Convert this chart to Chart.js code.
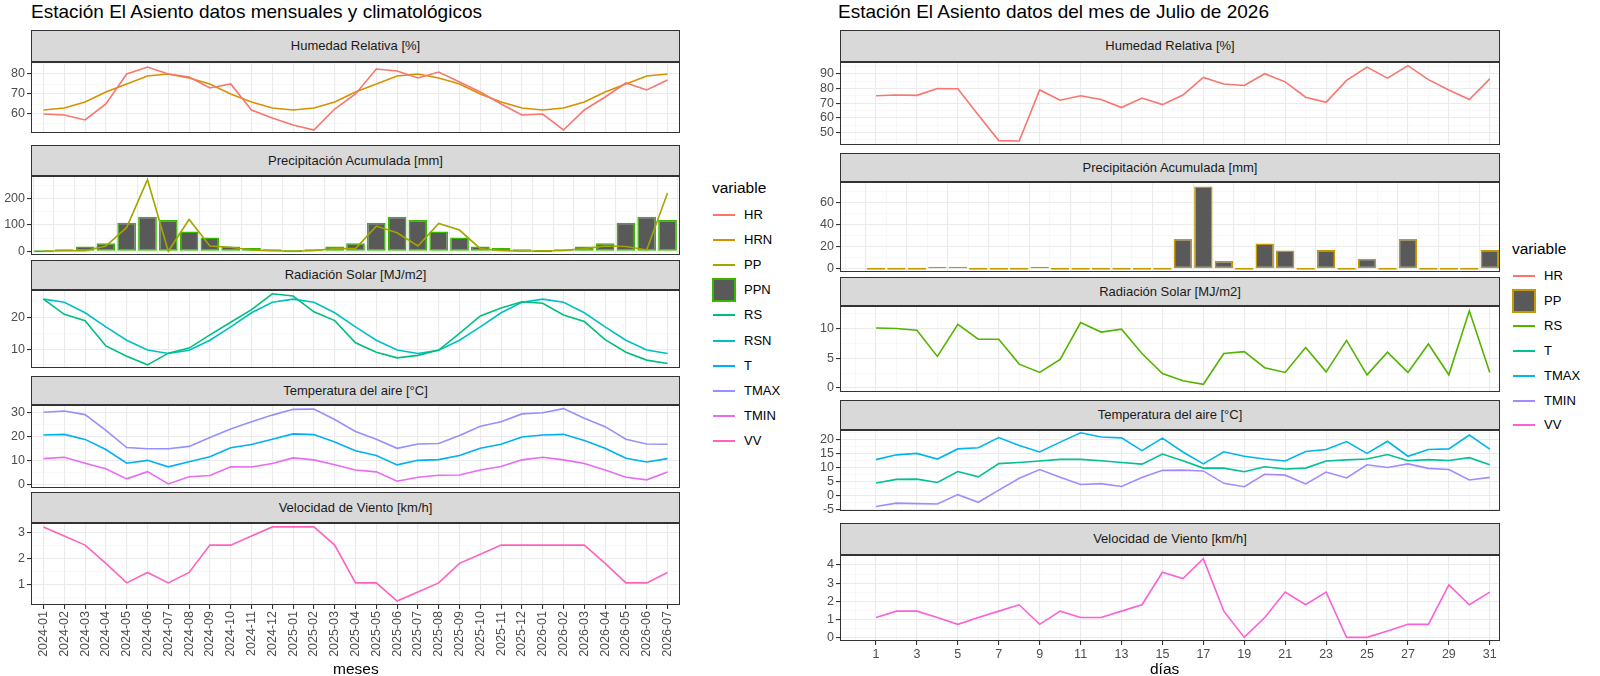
<!DOCTYPE html>
<html>
<head>
<meta charset="utf-8">
<script src="https://cdn.jsdelivr.net/npm/chart.js@4/dist/chart.umd.min.js"></script>
<style>
  body { margin: 0; background: #fff; font-family: "Liberation Sans", Arial, sans-serif; }
  #root { position: relative; width: 1600px; height: 676px; overflow: hidden; }
  .title { position: absolute; font-size: 19px; color: #000; top: 1px; line-height: 21px; }
  .strip { position: absolute; background: #d9d9d9; border: 1px solid #333; box-sizing: border-box;
           font-size: 13px; color: #1a1a1a; text-align: center; }
  .frame { position: absolute; border: 1px solid #333; box-sizing: border-box; pointer-events: none; }
  .cv { position: absolute; }
  .axt { position: absolute; font-size: 15.5px; color: #000; }
  .legt { position: absolute; font-size: 15.5px; color: #000; }
  .leg { position: absolute; font-size: 13px; color: #000; }
  .key { position: absolute; }
</style>
</head>
<body>
<div id="root"></div>
<script>
// ---- monthly data ----
const months = ['2024-01','2024-02','2024-03','2024-04','2024-05','2024-06','2024-07','2024-08','2024-09','2024-10','2024-11','2024-12',
  '2025-01','2025-02','2025-03','2025-04','2025-05','2025-06','2025-07','2025-08','2025-09','2025-10','2025-11','2025-12',
  '2026-01','2026-02','2026-03','2026-04','2026-05','2026-06','2026-07'];
const hrM   = [60,59.5,57,65,80,83.5,80,78.5,73,75,62,58,54.5,52,62.5,70,82.5,81.5,78,81,76,71,65,59.5,60,52,62,68.5,75.5,72,77];
const hrnM  = [62,63,66,71,75,79,80,78,75,70,66,63,62,63,66,71,75,79,80,78,75,70,66,63,62,63,66,71,75,79,80];
const ppM   = [0,2,2,20,90,270,0,120,20,15,5,2,0,3,10,10,95,70,20,105,80,10,3,0,2,3,10,20,18,5,220];
const ppnM  = [0,7,18,30,108,130,118,75,52,18,12,7,0,7,18,30,108,130,118,75,52,18,12,7,0,7,18,30,108,130,118];
const rsM   = [25.8,21,19,11,7.7,5,8.7,10.3,14.5,18.5,22.5,27.5,26.8,21.8,19,12,9,7.2,8,9.7,15,20.5,23,25,24.5,20.8,18.7,13,9,6.5,5.4];
const rsnM  = [25.8,24.8,21.5,17,12.8,9.7,8.6,9.6,12.8,17,21.5,24.8,25.8,24.8,21.5,17,12.8,9.7,8.6,9.6,12.8,17,21.5,24.8,25.8,24.8,21.5,17,12.8,9.7,8.6];
const tmaxM = [30,30.5,29,22.5,15.3,14.8,14.8,15.8,19.5,23,26,28.8,31.2,31.3,27,22,18.8,15,16.8,17,20.3,24.2,26,29.3,29.8,31.5,27.5,24,18.8,16.8,16.7];
const tM    = [20.5,20.8,18.7,14.5,8.8,10,7.3,9.4,11.5,15.2,16.6,18.8,21,20.7,17.6,14,12,8.1,10,10.3,12,15,16.7,19.7,20.5,20.8,18.2,15,10.9,9.3,10.7];
const tminM = [10.7,11.3,8.8,6.5,2.3,5.3,0.2,3.2,3.7,7.3,7.2,8.7,11,10.2,8.2,6,5.2,1.3,3,3.8,3.9,6,7.4,10.2,11.3,10.2,8.7,6,3,1.9,5.2];
const vvM   = [3.2,2.85,2.5,1.8,1.05,1.45,1.05,1.45,2.5,2.5,2.85,3.2,3.2,3.2,2.5,1.05,1.05,0.35,0.7,1.05,1.8,2.15,2.5,2.5,2.5,2.5,2.5,1.8,1.05,1.05,1.45];

// ---- daily data (Julio 2026) ----
const days  = Array.from({length: 31}, (_, i) => i + 1);
const hrD   = [75,75.5,75.3,80,79.8,62,44.5,44.2,79,72,75,72.5,67,73.5,69,75.5,87.5,83,82,90,84.5,74,70.5,85.5,94.5,87,95.5,86,79,72.5,86.5];
const ppD   = [0,0,0,1,1.5,0,0,0,1,0,0,0,0,0,0,27,75,7,0,23,16.5,0,17,0,9,0,27,0,0,0,17];
const rsD   = [10.1,10,9.7,5.3,10.7,8.2,8.2,4,2.6,4.8,11,9.4,9.9,5.8,2.4,1.2,0.6,5.8,6.1,3.4,2.6,6.8,2.7,8,2.2,6,2.6,7.4,2.2,13,2.6];
const tmaxD = [12.8,14.5,15,13,16.6,17,20.6,17.8,15.5,19,22.3,20.8,20.5,16,20.4,15.5,11.3,15.6,14,13,12.3,15.7,16.4,19.2,15,19.3,14,16.4,16.6,21.5,16.5];
const tD    = [4.5,5.8,5.9,4.7,8.6,6.7,11.4,11.8,12.3,12.9,12.9,12.4,11.8,11.2,14.8,12.4,9.8,9.8,8.5,10.3,9.5,9.8,12.3,12.7,13,14.6,12.4,12.8,12.5,13.5,11];
const tminD = [-3.8,-2.6,-2.8,-2.9,0.4,-2.3,2,6.2,9.3,6.6,4,4.3,3.3,6.5,9,9.1,8.8,4.4,3.2,7.6,7.3,4.2,8.4,6.3,11,10,11.3,9.7,9.3,5.6,6.5];
const vvD   = [1.1,1.45,1.45,1.1,0.72,1.1,1.45,1.8,0.72,1.45,1.1,1.1,1.45,1.8,3.6,3.25,4.35,1.45,0,1.1,2.5,1.8,2.5,0,0,0.35,0.72,0.72,2.9,1.8,2.5];

const C10 = { HR:'#F8766D', HRN:'#D89000', PP:'#A3A500', PPN:'#39B600', RS:'#00BF7D', RSN:'#00BFC4', T:'#00B0F6', TMAX:'#9590FF', TMIN:'#E76BF3', VV:'#FF62BC' };
const C7  = { HR:'#F8766D', PP:'#C49A00', RS:'#53B400', T:'#00C094', TMAX:'#00B6EB', TMIN:'#A58AFF', VV:'#FB61D7' };

const root = document.getElementById('root');
const YW = 40;

const el = (cls, css, text) => {
    const d = document.createElement('div');
    d.className = cls;
    Object.assign(d.style, css);
    if (text !== undefined) d.textContent = text;
    root.appendChild(d);
    return d;
};

const line = (xs, ys, color) => ({
    type: 'line', data: xs.map((x, i) => ({x: x, y: ys[i]})),
    borderColor: color, borderWidth: 1.6, pointRadius: 0, tension: 0, order: 1
});
// zero-height bars still show their outline, as ggplot does
const bars = (xs, ys, border) => ({
    type: 'bar', data: xs.map((x, i) => ({x: x, y: ys[i]})),
    backgroundColor: '#595959', borderColor: border, borderWidth: 1.5, borderSkipped: false,
    minBarLength: 2, barPercentage: 0.9, categoryPercentage: 1, order: 2
});

const tv = ctx => (ctx.tick ? ctx.tick.value : NaN);
const noPad = s => { s.paddingTop = 0; s.paddingBottom = 0; s.paddingLeft = 0; s.paddingRight = 0; };

// facet: strip + panel canvas
const facet = (o) => {
    const pw = o.right - o.left;
    const bottom = !!o.bottom;
    el('strip', {left: o.left + 'px', top: o.sTop + 'px', width: pw + 'px', height: (o.pTop - o.sTop) + 'px',
        lineHeight: (o.pTop - o.sTop - 2) + 'px'}, o.label);
    const bottomH = bottom ? o.bottomH : 0;
    const c = document.createElement('canvas');
    c.className = 'cv';
    const padB = o.padB || 0;
    const w = pw + YW, h = o.pH + bottomH + padB;
    Object.assign(c.style, {left: (o.left - YW) + 'px', top: o.pTop + 'px', width: w + 'px', height: h + 'px'});
    c.width = w; c.height = h;
    root.appendChild(c);
    el('frame', {left: o.left + 'px', top: o.pTop + 'px', width: pw + 'px', height: o.pH + 'px'});

    const yMaj = v => Math.abs(v / o.ymaj - Math.round(v / o.ymaj)) < 1e-6;

    new Chart(c.getContext('2d'), {
        data: { datasets: o.datasets },
        options: {
            responsive: false, animation: false, devicePixelRatio: 1,
            layout: { padding: { bottom: padB } },
            plugins: { legend: { display: false }, tooltip: { enabled: false } },
            scales: {
                x: {
                    type: 'linear', min: o.xmin, max: o.xmax, offset: false,
                    afterFit: s => { s.height = bottomH; noPad(s); },
                    border: { display: false },
                    grid: {
                        color: ctx => (o.xMajor(tv(ctx)) ? '#ebebeb' : '#f4f4f4'),
                        lineWidth: ctx => (o.xMajor(tv(ctx)) ? 1.1 : 0.6),
                        drawTicks: bottom, tickLength: 4,
                        tickColor: ctx => (o.xMajor(tv(ctx)) ? '#333' : 'rgba(0,0,0,0)')
                    },
                    ticks: {
                        display: bottom, stepSize: 1, autoSkip: false, padding: 2,
                        color: '#4d4d4d', font: { family: 'Liberation Sans', size: 12.5 },
                        maxRotation: o.rot, minRotation: o.rot,
                        callback: v => o.xLabel(v)
                    },
                    afterBuildTicks: s => { s.ticks = o.xTicks.map(v => ({value: v})); }
                },
                y: {
                    min: o.ymin, max: o.ymax,
                    afterFit: s => { s.width = YW; noPad(s); },
                    border: { display: false },
                    grid: {
                        color: ctx => (yMaj(tv(ctx)) ? '#ebebeb' : '#f4f4f4'),
                        lineWidth: ctx => (yMaj(tv(ctx)) ? 1.1 : 0.6),
                        tickLength: 4,
                        tickColor: ctx => (yMaj(tv(ctx)) ? '#333' : 'rgba(0,0,0,0)')
                    },
                    ticks: {
                        autoSkip: false, padding: 2, color: '#4d4d4d',
                        font: { family: 'Liberation Sans', size: 12.5 },
                        callback: v => (yMaj(v) ? Math.round(v) : '')
                    },
                    afterBuildTicks: s => {
                        const t = [];
                        const st = o.ymaj / 2;
                        for (let v = Math.ceil(o.ymin / st) * st; v <= o.ymax; v += st) t.push({value: v});
                        s.ticks = t;
                    }
                }
            }
        }
    });
};

// ---- left: monthly ----
const mi = months.map((m, i) => i);
const L = { left: 31, right: 680, xmin: -0.6, xmax: 30.6, rot: 90, bottomH: 56,
    xTicks: mi, xMajor: () => true, xLabel: v => months[v] };
el('title', {left: '31px'}, 'Estación El Asiento datos mensuales y climatológicos');
facet(Object.assign({}, L, { label: 'Humedad Relativa [%]', sTop: 30, pTop: 62, pH: 71, ymin: 50.5, ymax: 86, ymaj: 10,
    datasets: [line(mi, hrM, C10.HR), line(mi, hrnM, C10.HRN)] }));
facet(Object.assign({}, L, { label: 'Precipitación Acumulada [mm]', sTop: 145, pTop: 176, pH: 79, ymin: -14, ymax: 284, ymaj: 100,
    datasets: [bars(mi, ppnM, C10.PPN), line(mi, ppM, C10.PP)] }));
facet(Object.assign({}, L, { label: 'Radiación Solar [MJ/m2]', sTop: 260, pTop: 290, pH: 78, ymin: 4, ymax: 28.7, ymaj: 10,
    datasets: [line(mi, rsM, C10.RS), line(mi, rsnM, C10.RSN)] }));
facet(Object.assign({}, L, { label: 'Temperatura del aire [°C]', sTop: 376, pTop: 405, pH: 83, ymin: -1.5, ymax: 33, ymaj: 10,
    datasets: [line(mi, tmaxM, C10.TMAX), line(mi, tM, C10.T), line(mi, tminM, C10.TMIN)] }));
facet(Object.assign({}, L, { label: 'Velocidad de Viento [km/h]', sTop: 492, pTop: 523, pH: 82, bottom: true, ymin: 0.2, ymax: 3.35, ymaj: 1,
    datasets: [line(mi, vvM, C10.VV)] }));
el('axt', {left: '333px', top: '662px', lineHeight: '14px'}, 'meses');

// ---- right: daily ----
const R = { left: 840, right: 1500, xmin: -0.76, xmax: 31.5, rot: 0, bottomH: 30,
    xTicks: Array.from({length: 33}, (_, i) => i), xMajor: v => v % 2 === 1, xLabel: v => (v % 2 === 1 ? v : '') };
el('title', {left: '838px'}, 'Estación El Asiento datos del mes de Julio de 2026');
facet(Object.assign({}, R, { label: 'Humedad Relativa [%]', sTop: 30, pTop: 62, pH: 83, ymin: 41.5, ymax: 98, ymaj: 10,
    datasets: [line(days, hrD, C7.HR)] }));
facet(Object.assign({}, R, { label: 'Precipitación Acumulada [mm]', sTop: 153, pTop: 182, pH: 90, ymin: -3, ymax: 79, ymaj: 20,
    datasets: [bars(days, ppD, C7.PP)] }));
facet(Object.assign({}, R, { label: 'Radiación Solar [MJ/m2]', sTop: 277, pTop: 306, pH: 86, ymin: -0.7, ymax: 13.8, ymaj: 5,
    datasets: [line(days, rsD, C7.RS)] }));
facet(Object.assign({}, R, { label: 'Temperatura del aire [°C]', sTop: 400, pTop: 430, pH: 81, padB: 8, ymin: -5.4, ymax: 23.3, ymaj: 5,
    datasets: [line(days, tmaxD, C7.TMAX), line(days, tD, C7.T), line(days, tminD, C7.TMIN)] }));
facet(Object.assign({}, R, { label: 'Velocidad de Viento [km/h]', sTop: 523, pTop: 555, pH: 86, bottom: true, ymin: -0.2, ymax: 4.55, ymaj: 1,
    datasets: [line(days, vvD, C7.VV)] }));
el('axt', {left: '1150px', top: '662px', lineHeight: '14px'}, 'días');

// ---- legends ----
const legend = (x, y, colors, boxes, gap) => {
    el('legt', {left: x + 'px', top: (y - 36) + 'px'}, 'variable');
    Object.keys(colors).forEach((k, i) => {
        const cy = y + i * gap;
        if (boxes.includes(k)) {
            el('key', {left: x + 'px', top: (cy - 12) + 'px', width: '24px', height: '24px', background: '#595959',
                border: '2px solid ' + colors[k], boxSizing: 'border-box'});
        } else {
            el('key', {left: (x + 1) + 'px', top: (cy - 1) + 'px', width: '22px', height: '2px', background: colors[k]});
        }
        el('leg', {left: (x + 32) + 'px', top: (cy - 8) + 'px', lineHeight: '16px'}, k);
    });
};
legend(712, 215, C10, ['PPN'], 25.1);
legend(1512, 276, C7, ['PP'], 24.9);
</script>
</body>
</html>
